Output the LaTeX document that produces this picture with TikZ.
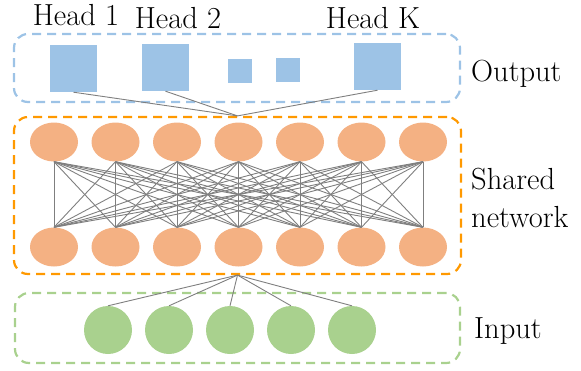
\documentclass[tikz,border=0pt]{standalone}
\usepackage{fontspec}
\usetikzlibrary{shapes.geometric}

\definecolor{headblue}{HTML}{9DC3E6}
\definecolor{unitorange}{HTML}{F4B183}
\definecolor{featgreen}{HTML}{A9D18E}
\definecolor{netorange}{HTML}{FF9900}
\definecolor{linkgray}{HTML}{7F7F7F}

\tikzset{
  grp/.style={draw=#1, dash pattern=on 9pt off 6pt, line width=2.2pt,
    rounded corners=14pt, inner sep=0pt},
  head/.style={fill=headblue, inner sep=0pt, minimum size=#1},
  unit/.style={ellipse, fill=unitorange, minimum width=48pt,
    minimum height=39pt, inner sep=0pt},
  feat/.style={circle, fill=featgreen, minimum size=48pt, inner sep=0pt},
  link/.style={draw=linkgray, line width=0.9pt},
  lbl/.style={font=\fontsize{30.5}{38}\selectfont, inner sep=0pt}
}

\begin{document}
\begin{tikzpicture}[x=1pt,y=-1pt]
  \useasboundingbox (0,0) rectangle (581,370);
  %% groups
  \node[grp=headblue, minimum width=446pt, minimum height=68pt] (outbox) at (237,68) {};
  \node[grp=netorange, minimum width=447pt, minimum height=157pt] (netbox) at (237.5,195.5) {};
  \node[grp=featgreen, minimum width=445pt, minimum height=70pt] (inbox) at (237.5,328) {};

  %% heads
  \node[head=47pt] (h1) at (73.5,68.5) {};
  \node[head=47pt] (h2) at (165.5,67.5) {};
  \node[head=24pt] (h3) at (240,71) {};
  \node[head=24pt] (h4) at (288,70) {};
  \node[head=47pt] (hK) at (377.5,66.5) {};
  \foreach \h in {h1,h2,hK}
    \draw[link] (\h.south) -- (netbox.north);

  %% shared layers
  \foreach \i in {1,...,7} {
    \node[unit] (t\i) at ({54+61.5*(\i-1)},142) {};
    \node[unit] (b\i) at ({54+61.5*(\i-1)},247) {};
  }
  \foreach \i in {1,...,7}
    \foreach \j in {1,...,7}
      \draw[link] (t\i.south) -- (b\j.north);

  %% input
  \foreach \k in {1,...,5} {
    \node[feat] (x\k) at ({108+61*(\k-1)},330) {};
    \draw[link] (netbox.south) -- (x\k.north);
  }

  %% labels
  \node[lbl, anchor=base] (lh1) at (76,25) {Head 1};
  \node[lbl, anchor=base] (lh2) at (178,28) {Head 2};
  \node[lbl, anchor=base] (lhK) at (373,28) {Head K};
  \node[lbl, anchor=base west] (lout) at (471,81) {Output};
  \node[lbl, anchor=west, align=left] (lnet) at (471,198) {Shared\\network};
  \node[lbl, anchor=base west] (lin) at (474,338) {Input};
\end{tikzpicture}
\end{document}
